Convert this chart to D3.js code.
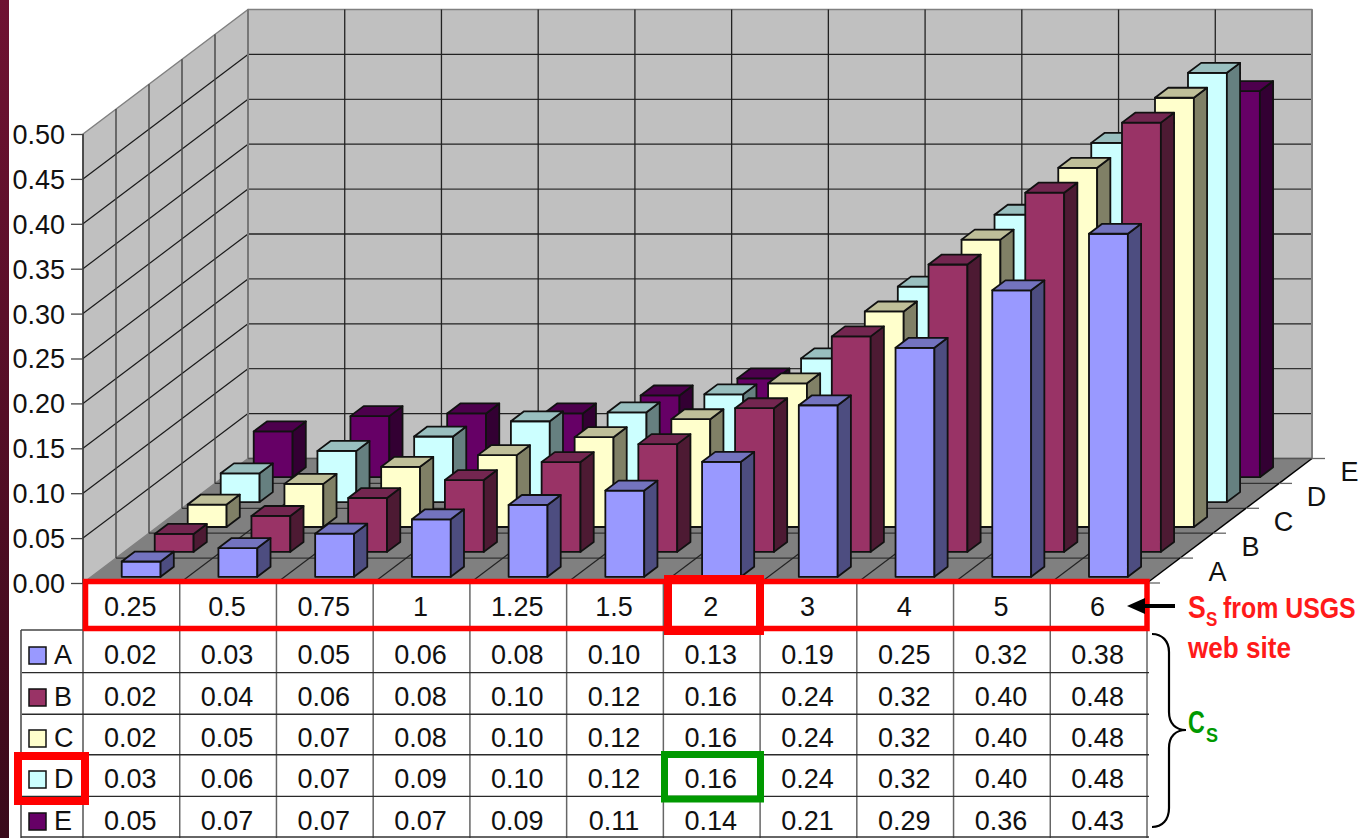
<!DOCTYPE html>
<html><head><meta charset="utf-8">
<script src="https://cdnjs.cloudflare.com/ajax/libs/d3/7.8.5/d3.min.js"></script>
<style>html,body{margin:0;padding:0;background:#fff;overflow:hidden}svg{display:block}text{font-family:"Liberation Sans",Arial,sans-serif;fill:#111}</style>
</head><body><svg id="c" width="1359" height="838"></svg>
<script>
const categories=["0.25","0.5","0.75","1","1.25","1.5","2","3","4","5","6"];
const seriesNames=["A","B","C","D","E"];
const barsA=[0.017,0.032,0.048,0.064,0.080,0.096,0.128,0.191,0.255,0.319,0.382];
const barsB=[0.020,0.040,0.060,0.080,0.100,0.120,0.160,0.240,0.320,0.400,0.478];
const barsC=[0.025,0.048,0.067,0.080,0.100,0.120,0.160,0.240,0.320,0.400,0.478];
const barsD=[0.032,0.057,0.073,0.090,0.100,0.120,0.160,0.240,0.320,0.400,0.478];
const barsE=[0.051,0.068,0.071,0.071,0.091,0.110,0.142,0.213,0.285,0.357,0.430];
const tableA=["0.02","0.03","0.05","0.06","0.08","0.10","0.13","0.19","0.25","0.32","0.38"];
const tableB=["0.02","0.04","0.06","0.08","0.10","0.12","0.16","0.24","0.32","0.40","0.48"];
const tableC=["0.02","0.05","0.07","0.08","0.10","0.12","0.16","0.24","0.32","0.40","0.48"];
const tableD=["0.03","0.06","0.07","0.09","0.10","0.12","0.16","0.24","0.32","0.40","0.48"];
const tableE=["0.05","0.07","0.07","0.07","0.09","0.11","0.14","0.21","0.29","0.36","0.43"];
const yTicks=[0,0.05,0.1,0.15,0.2,0.25,0.3,0.35,0.4,0.45,0.5];
const faceColors=["#9999ff","#993366","#ffffcc","#ccffff","#660066"];
const topColors=["#7373bf","#732650","#bfbf99","#99bfbf","#4d004d"];
const sideColors=["#4d4d80","#4d1a33","#808066","#668080","#330033"];
const bars=[barsA,barsB,barsC,barsD,barsE];
const tables=[tableA,tableB,tableC,tableD,tableE];

const svg=d3.select("#c");
const grad=svg.append("defs").append("linearGradient").attr("id","band").attr("x1",0).attr("y1",0).attr("x2",0).attr("y2",1);
grad.append("stop").attr("offset",0).attr("stop-color","#6f1232");
grad.append("stop").attr("offset",1).attr("stop-color","#3a0a1a");
svg.append("rect").attr("width",9).attr("height",838).attr("fill","url(#band)");

const x0=83,x1=1147,y0=583,yTop=134,dxTotal=165,dyTotal=124.5;
const uScale=d3.scaleLinear().domain([0,categories.length]).range([x0,x1]);
const vX=d3.scaleLinear().domain([0,seriesNames.length]).range([0,dxTotal]);
const vY=d3.scaleLinear().domain([0,seriesNames.length]).range([0,dyTotal]);
const yScale=d3.scaleLinear().domain([0,0.5]).range([y0,yTop]);
const P=(u,v,z)=>[uScale(u)+vX(v),yScale(z)-vY(v)];
const poly=(g,pts,fill,stroke,sw)=>g.append("polygon").attr("points",pts.map(p=>p.join(",")).join(" ")).attr("fill",fill).attr("stroke",stroke).attr("stroke-width",sw).attr("stroke-linejoin","round");
const line=(g,a,b,c,w)=>g.append("line").attr("x1",a[0]).attr("y1",a[1]).attr("x2",b[0]).attr("y2",b[1]).attr("stroke",c).attr("stroke-width",w);
const nU=categories.length,nV=seriesNames.length,zMax=0.5;

// walls and floor
const wall=svg.append("g");
poly(wall,[P(0,0,0),P(0,nV,0),P(0,nV,zMax),P(0,0,zMax)],"#c0c0c0","#808080",1.5);
poly(wall,[P(0,nV,0),P(nU,nV,0),P(nU,nV,zMax),P(0,nV,zMax)],"#c0c0c0","#808080",1.5);
poly(wall,[P(0,0,0),P(nU,0,0),P(nU,nV,0),P(0,nV,0)],"#808080","none",0);
yTicks.slice(1,-1).forEach((t,i)=>{
  const c=i%2?"#333":"#222";
  line(wall,P(0,0,t),P(0,nV,t),"#1a1a1a",1.2);
  line(wall,P(0,nV,t),P(nU,nV,t),c,1.3);
});
d3.range(1,nV).forEach(v=>line(wall,P(0,v,0),P(0,v,zMax),"#444",1.4));
d3.range(1,nU).forEach(u=>line(wall,P(u,nV,0),P(u,nV,zMax),"#222",1.3));
line(wall,P(0,nV,0),P(0,nV,zMax),"#777",2);
line(wall,P(nU,nV,0),P(nU,nV,zMax),"#808080",2);
d3.range(1,nV).forEach(v=>line(wall,P(0,v,0),P(nU,v,0),"#333",1.3));
d3.range(1,nU).forEach(u=>line(wall,P(u,0,0),P(u,nV,0),"#222",1.2));
line(wall,P(nU,0,0),P(nU,nV,0),"#000",1.5);
line(wall,P(0,0,0),P(0,0,zMax),"#333",1.5);
line(wall,P(0,nV,0),P(nU,nV,0),"#555",1.5);

// depth ticks and labels
const axisZ=svg.append("g");
d3.range(0,nV+1).forEach(v=>{const p=P(nU,v,0);line(axisZ,p,[p[0]+13,p[1]],"#666",1.3);});
seriesNames.forEach((s,i)=>{
  const p=P(nU,i+0.5,0);
  axisZ.append("text").attr("x",p[0]+54).attr("y",p[1]+10).attr("text-anchor","middle").attr("font-size",27).text(s);
});

// bars, back series first
const barsG=svg.append("g").attr("stroke-linejoin","round");
const uStart=0.315,uW=0.402,vStart=0.25,vD=0.4;
d3.range(nV-1,-1,-1).forEach(si=>{
  const g=barsG.append("g");
  bars[si].forEach((val,ci)=>{
    const u=ci+uStart,u2=u+uW,v=si+vStart,v2=v+vD;
    poly(g,[P(u,v,0),P(u2,v,0),P(u2,v,val),P(u,v,val)],faceColors[si],"#111",1.8);
    poly(g,[P(u2,v,0),P(u2,v2,0),P(u2,v2,val),P(u2,v,val)],sideColors[si],"#111",1.8);
    poly(g,[P(u,v,val),P(u2,v,val),P(u2,v2,val),P(u,v2,val)],topColors[si],"#111",1.8);
  });
});

// value axis
const yAxis=d3.axisLeft(yScale).tickValues(yTicks).tickFormat(d3.format(".2f")).tickSize(12).tickPadding(6);
const axG=svg.append("g").attr("transform",`translate(${x0},0)`).call(yAxis);
axG.select(".domain").remove();
axG.selectAll("line").attr("stroke","#444").attr("stroke-width",1.3);
axG.selectAll("text").attr("font-size",27).attr("dy","0.35em").style("font-family",'"Liberation Sans",Arial,sans-serif').attr("fill","#111");

// data table
const tb=svg.append("g");
const tblLeft=21,tblRight=1149;
const rowY=d3.scaleLinear().domain([0,5]).range([630,838]);
const legX=tblLeft;
d3.range(1,nU+1).forEach(i=>line(tb,[uScale(i),584],[uScale(i),838],"#666",1.5));
line(tb,[x0,584],[x0,838],"#555",1.5);
line(tb,[legX,630],[legX,838],"#444",1.5);
line(tb,[legX,630],[x0,630],"#444",1.5);
d3.range(1,5).forEach(r=>line(tb,[legX+1,rowY(r)+ (r<3?1:0)],[tblRight,rowY(r)+(r<3?1:0)],"#2a2a2a",1.4));
line(tb,[legX,837],[tblRight,837],"#333",1.5);
categories.forEach((c,i)=>{
  tb.append("text").attr("x",uScale(i+0.5)-1).attr("y",616).attr("text-anchor","middle").attr("font-size",27).text(c);
});
const rowCenter=[654,696,737,778,820];
tables.forEach((row,r)=>{
  row.forEach((v,i)=>tb.append("text").attr("x",uScale(i+0.5)-1).attr("y",rowCenter[r]+9.5).attr("text-anchor","middle").attr("font-size",27).text(v));
  tb.append("rect").attr("x",29).attr("y",rowCenter[r]-7).attr("width",17).attr("height",17).attr("fill",faceColors[r]).attr("stroke","#111").attr("stroke-width",1.5);
  tb.append("text").attr("x",54).attr("y",rowCenter[r]+10).attr("font-size",27).text(seriesNames[r]);
});

// annotations
const ann=svg.append("g").attr("fill","none");
const box=(a,b,c,d,col,w)=>ann.append("rect").attr("x",a).attr("y",c).attr("width",b-a).attr("height",d-c).attr("stroke",col).attr("stroke-width",w);
box(85.5,1147,581.5,628.5,"#ff0000",5.5);
box(668,760,579,631,"#ff0000",8);
box(18,85,756,801,"#ff0000",8);
box(664.5,760.5,754.5,799,"#009900",7);
ann.append("line").attr("x1",1175).attr("y1",606).attr("x2",1140).attr("y2",606).attr("stroke","#000").attr("stroke-width",4);
ann.append("path").attr("d","M1127,606L1145,598L1145,614Z").attr("fill","#000");
ann.append("path").attr("d","M1152,634C1162,634 1169,641 1169,652L1169,712C1169,724 1176,730 1186,730C1176,730 1169,736 1169,748L1169,808C1169,820 1162,827 1152,827").attr("stroke","#000").attr("stroke-width",2.2);

const lab=(x,y,s,sx,col,t)=>svg.append("text").attr("transform",`translate(${x},${y}) scale(${sx},1)`).attr("font-size",s).attr("font-weight","bold").style("fill",col).text(t);
lab(1188,618,31,0.86,"#ff1a1a","S");
lab(1206,626,20,0.85,"#ff1a1a","S");
lab(1223,618,30,0.83,"#ff1a1a","from USGS");
lab(1188,658,29,0.90,"#ff1a1a","web site");
lab(1188,733,31,0.75,"#009900","C");
lab(1206,742,20,0.9,"#009900","S");
</script></body></html>
